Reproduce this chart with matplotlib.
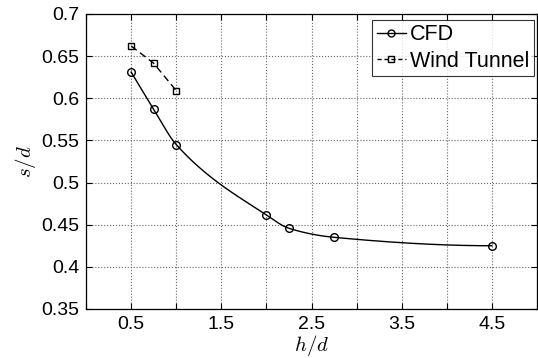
import numpy as np
import matplotlib
matplotlib.use("Agg")
import matplotlib.pyplot as plt

plt.rcParams['font.family'] = ['Liberation Sans', 'DejaVu Sans']
plt.rcParams['mathtext.fontset'] = 'cm'

cfd_x = [0.5, 0.75, 1.0, 2.0, 2.25, 2.75, 4.5]
cfd_y = [0.631, 0.587, 0.545, 0.4615, 0.4457, 0.435, 0.425]
wt_x = [0.5, 0.75, 1.0]
wt_y = [0.662, 0.6415, 0.609]

x_ticks = [0, 0.5, 1, 1.5, 2, 2.5, 3, 3.5, 4, 4.5, 5]
x_labels = ['', '0.5', '', '1.5', '', '2.5', '', '3.5', '', '4.5', '']
y_ticks = [0.35, 0.4, 0.45, 0.5, 0.55, 0.6, 0.65, 0.7]
y_labels = ['0.35', '0.4', '0.45', '0.5', '0.55', '0.6', '0.65', '0.7']


def pchip(x, y, xq):
    x = np.asarray(x, float); y = np.asarray(y, float)
    h = np.diff(x); d = np.diff(y) / h
    n = len(x)
    m = np.zeros(n)
    for k in range(1, n - 1):
        if d[k - 1] * d[k] > 0:
            w1 = 2 * h[k] + h[k - 1]; w2 = h[k] + 2 * h[k - 1]
            m[k] = (w1 + w2) / (w1 / d[k - 1] + w2 / d[k])
    def end(h0, h1, d0, d1):
        s = ((2 * h0 + h1) * d0 - h0 * d1) / (h0 + h1)
        if np.sign(s) != np.sign(d0):
            s = 0
        elif np.sign(d0) != np.sign(d1) and abs(s) > abs(3 * d0):
            s = 3 * d0
        return s
    m[0] = end(h[0], h[1], d[0], d[1])
    m[-1] = end(h[-1], h[-2], d[-1], d[-2])
    xq = np.asarray(xq, float)
    idx = np.clip(np.searchsorted(x, xq) - 1, 0, n - 2)
    t = (xq - x[idx]) / h[idx]
    h00 = 2 * t**3 - 3 * t**2 + 1; h10 = t**3 - 2 * t**2 + t
    h01 = -2 * t**3 + 3 * t**2; h11 = t**3 - t**2
    return h00 * y[idx] + h10 * h[idx] * m[idx] + h01 * y[idx + 1] + h11 * h[idx] * m[idx + 1]


fig = plt.figure(figsize=(5.38, 3.58), dpi=100)
ax = fig.add_axes([0.160, 0.137, 0.838, 0.824])

xs = np.linspace(cfd_x[0], cfd_x[-1], 400)
ax.plot(xs, pchip(cfd_x, cfd_y, xs), color='black', lw=1.0, zorder=3)
ax.plot(cfd_x, cfd_y, 'o', mfc='none', mec='black', ms=5.5, mew=1.0, zorder=4)
ax.plot(wt_x, wt_y, '--', color='black', lw=1.0, dashes=(5, 3), zorder=3)
ax.plot(wt_x, wt_y, 's', mfc='none', mec='black', ms=4, mew=1.0, zorder=4)

h1, = ax.plot([], [], '-o', color='black', mfc='none', ms=5, lw=1.0)
h2, = ax.plot([], [], '--s', color='black', mfc='none', ms=4, lw=1.0, dashes=(3, 2))
leg = ax.legend([h1, h2], ['CFD', 'Wind Tunnel'], loc='upper right',
                bbox_to_anchor=(0.9935, 0.98), fontsize=15.5, frameon=True,
                fancybox=False, edgecolor='black', handlelength=1.35,
                handletextpad=0.22, borderpad=0.2, labelspacing=0.25,
                borderaxespad=0.0)
leg.get_frame().set_linewidth(0.8)

ax.set_xlim(0, 5)
ax.set_ylim(0.35, 0.7)
ax.set_xticks(x_ticks)
ax.set_xticklabels(x_labels)
ax.set_yticks(y_ticks)
ax.set_yticklabels(y_labels)
ax.tick_params(direction='in', top=True, right=True, labelsize=14, length=4, width=0.8, pad=5)
ax.grid(True, linestyle=':', color='0.4', linewidth=0.8)
for s in ax.spines.values():
    s.set_linewidth(0.9)

ax.set_xlabel(r'$h/d$', fontsize=15, labelpad=0)
ax.set_ylabel(r'$s/d$', fontsize=15, labelpad=2)

fig.savefig('out.png', dpi=100)
